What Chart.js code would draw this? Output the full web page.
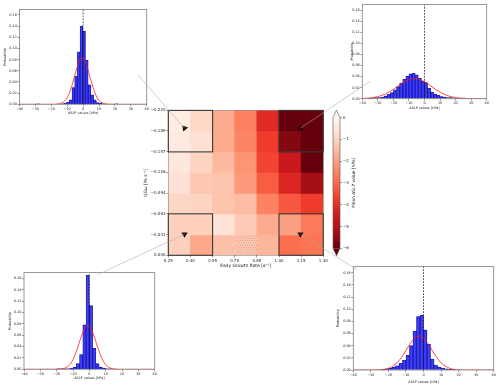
<!DOCTYPE html>
<html>
<head>
<meta charset="utf-8">
<script src="https://cdn.jsdelivr.net/npm/chart.js"></script>
<style>
  body { margin: 0; background: #fff; width: 500px; height: 387px; position: relative; overflow: hidden; }
  canvas { position: absolute; }
</style>
</head>
<body>
<canvas id="heat"></canvas>
<canvas id="cbar"></canvas>
<canvas id="hTL"></canvas>
<canvas id="hTR"></canvas>
<canvas id="hBL"></canvas>
<canvas id="hBR"></canvas>
<canvas id="links"></canvas>
<script>
// ---- heatmap data ----
const growthEdges = [0.25, 0.40, 0.55, 0.70, 0.85, 1.00, 1.15, 1.30];
const qgEdges = [-0.220, -0.189, -0.157, -0.126, -0.094, -0.063, -0.031, 0.000];
// mean dSLP per cell, rows from top (-0.220) to bottom (0.000)
const meanSLP = [
  [-0.3, -0.9, -1.8, -2.6, -4.1, -6.0, -6.0],
  [-0.4, -0.7, -1.8, -2.5, -3.75, -5.6, -6.0],
  [-0.5, -1.0, -1.5, -2.2, -3.6, -4.5, -6.0],
  [-0.7, -1.25, -1.3, -2.1, -3.2, -4.2, -5.25],
  [-0.95, -1.0, -1.3, -1.45, -2.55, -3.3, -3.75],
  [-1.05, -1.05, -0.65, -1.2, -1.8, -2.0, -2.7],
  [-1.05, -1.85, -1.4, -1.3, -1.6, -2.9, -2.8]
];
const stippled = [[1, 5], [6, 3]];
const cbarTicks = [0, -1, -2, -3, -4, -5, -6];
const boxes = [
  [0.25, 0.55, -0.220, -0.157],
  [1.00, 1.30, -0.220, -0.157],
  [0.25, 0.55, -0.063, 0.000],
  [1.00, 1.30, -0.063, 0.000]
];
const markerX = [0.36, 1.145, 0.36, 1.145];
const markerY = [-0.193, -0.193, -0.032, -0.032];
const markerRot = [-40, 10, 180, 180];

// ---- histogram insets ----
const histTicksX = [-40, -30, -20, -10, 0, 10, 20, 30, 40];
const probTicks = [0, 0.02, 0.04, 0.06, 0.08, 0.10, 0.12, 0.14, 0.16];

const tlBins = [-28.25, -12.95, -11.25, -9.55, -7.85, -6.15, -4.45, -2.75, -1.05, 0.65, 2.35, 4.05, 5.75, 7.45, 9.15, 10.85, 12.55, 21.05];
const tlProb = [0.001, 0.001, 0.002, 0.004, 0.008, 0.030, 0.050, 0.094, 0.140, 0.131, 0.079, 0.035, 0.017, 0.008, 0.003, 0.002, 0.001, 0.001];
const tlFitX = [-40, -20, -15, -12.5, -10, -7.5, -5, -2.5, -1, 0, 2.5, 5, 7.5, 10, 12.5, 15, 20, 40];
const tlFitY = [0, 0, 0.001, 0.004, 0.012, 0.029, 0.054, 0.077, 0.083, 0.082, 0.067, 0.042, 0.020, 0.007, 0.002, 0.0005, 0, 0];

const trBins = [-35, -33, -31, -29, -27, -25, -23, -21, -19, -17, -15, -13, -11, -9, -7, -5, -3, -1, 1, 3, 5, 7, 9, 11, 13, 15, 17, 19, 21, 23, 25];
const trProb = [0.001, 0.001, 0.002, 0.002, 0.003, 0.005, 0.008, 0.011, 0.016, 0.022, 0.028, 0.035, 0.041, 0.045, 0.046, 0.043, 0.037, 0.032, 0.029, 0.019, 0.012, 0.008, 0.006, 0.004, 0.003, 0.002, 0.002, 0.001, 0.001, 0.001, 0.001];
const trFitX = [-40, -35, -30, -25, -20, -15, -10, -7, -5, 0, 5, 10, 15, 20, 25, 30, 40];
const trFitY = [0.0004, 0.0013, 0.0037, 0.0088, 0.017, 0.027, 0.0345, 0.0363, 0.036, 0.0305, 0.021, 0.0118, 0.0054, 0.002, 0.0006, 0.0001, 0];

const blBins = [-19, -17, -15, -13, -11, -9, -7, -5, -3, -1, 1, 3, 5, 7, 9, 11, 13];
const blProb = [0.001, 0.001, 0.001, 0.001, 0.002, 0.004, 0.010, 0.026, 0.078, 0.165, 0.112, 0.037, 0.010, 0.004, 0.002, 0.001, 0.001];
const blFitX = [-40, -20, -15, -12.5, -10, -7.5, -5, -2.5, -1, 0, 2.5, 5, 7.5, 10, 12.5, 15, 20, 40];
const blFitY = [0, 0.0001, 0.0021, 0.0067, 0.0171, 0.0351, 0.057, 0.0736, 0.0767, 0.0753, 0.0613, 0.0394, 0.0202, 0.0082, 0.0026, 0.0007, 0, 0];

const brBins = [-23, -21, -19, -17, -15, -13, -11, -9, -7, -5, -3, -1, 1, 3, 5, 7, 9, 11, 13, 15, 17];
const brProb = [0.001, 0.002, 0.003, 0.005, 0.007, 0.011, 0.016, 0.024, 0.040, 0.064, 0.088, 0.090, 0.066, 0.042, 0.018, 0.008, 0.005, 0.003, 0.002, 0.001, 0.001];
const brFitX = [-40, -30, -25, -20, -15, -12.5, -10, -7.5, -5, -2.5, 0, 2.5, 5, 7.5, 10, 15, 20, 25, 40];
const brFitY = [0, 0, 0.0004, 0.0027, 0.0119, 0.0208, 0.032, 0.0437, 0.0526, 0.056, 0.0526, 0.0437, 0.032, 0.0208, 0.0119, 0.0027, 0.0004, 0, 0];

// where each connector line ends, in the inset's own data coordinates
const linkEndX = [34.4, -35.2, 4.8, -37.9];
const linkEndY = [0.053, 0.031, 0.166, 0.165];

Chart.defaults.font.family = 'DejaVu Sans';
Chart.defaults.color = '#222';
Chart.defaults.animation = false;
Chart.defaults.events = [];
Chart.defaults.plugins.legend.display = false;
Chart.defaults.plugins.tooltip.enabled = false;

const redsStops = ['#fff5f0', '#fee0d2', '#fcbba1', '#fc9272', '#fb6a4a', '#ef3b2c', '#cb181d', '#a50f15', '#67000d'];
function hexRgb(h) {
  return [1, 3, 5].map(i => parseInt(h.slice(i, i + 2), 16));
}
function redsRgb(v) {
  const t = Math.min(1, Math.max(0, -v / 6)) * 8;
  const i = Math.min(7, Math.floor(t)), f = t - i;
  const a = hexRgb(redsStops[i]), b = hexRgb(redsStops[i + 1]);
  return a.map((x, k) => Math.round(x + (b[k] - x) * f));
}
function redsColor(v) {
  const c = redsRgb(v);
  return `rgb(${c[0]},${c[1]},${c[2]})`;
}
const minus = v => (v < 0 ? '\u2212' + Math.abs(v) : String(v));

// put a canvas so that its chart area lands on the given page rectangle
function place(id, area, m) {
  const left = Math.floor(area.x - m.l), top = Math.floor(area.y - m.t);
  const w = Math.ceil(area.x + area.w + m.r) - left;
  const h = Math.ceil(area.y + area.h + m.b) - top;
  const cv = document.getElementById(id);
  cv.width = w; cv.height = h;
  cv.style.left = left + 'px'; cv.style.top = top + 'px';
  cv.style.width = w + 'px'; cv.style.height = h + 'px';
  return { cv, left, top, w, h,
    l: area.x - left, t: area.y - top,
    r: left + w - (area.x + area.w), b: top + h - (area.y + area.h) };
}

const tickGrid = { drawOnChartArea: false, drawTicks: true, tickLength: 2, color: '#333', lineWidth: 0.5 };

const frame = {
  id: 'frame',
  afterDatasetsDraw(chart, args, opts) {
    const { ctx, chartArea: a } = chart;
    ctx.save();
    ctx.strokeStyle = opts.color || '#777';
    ctx.lineWidth = opts.width || 0.8;
    ctx.strokeRect(a.left, a.top, a.right - a.left, a.bottom - a.top);
    ctx.restore();
  }
};

// ---- heatmap ----
const heatPos = place('heat', { x: 168.3, y: 110.4, w: 155, h: 144.9 }, { l: 32, t: 6, r: 8, b: 16 });
const heatTitleFont = 4.4;
const heatCells = {
  id: 'heatCells',
  afterDatasetsDraw(chart) {
    const { ctx, scales: { x, y } } = chart;
    ctx.save();
    // significance stippling, a darker shade of the cell colour
    stippled.forEach(([r, c]) => {
      const base = redsRgb(meanSLP[r][c]).map(k => Math.round(k * 0.6));
      ctx.fillStyle = `rgba(${base[0]},${base[1]},${base[2]},0.7)`;
      const x0 = x.getPixelForValue(growthEdges[c]), x1 = x.getPixelForValue(growthEdges[c + 1]);
      const y0 = y.getPixelForValue(qgEdges[r]), y1 = y.getPixelForValue(qgEdges[r + 1]);
      for (let py = y0 + 1.2; py < y1; py += 2.3) {
        for (let px = x0 + 1.2 + ((py - y0) % 4.6 > 2 ? 1.1 : 0); px < x1; px += 2.3) {
          ctx.fillRect(px - 0.35, py - 0.35, 0.7, 0.7);
        }
      }
    });
    // outer frame
    const a = chart.chartArea;
    ctx.strokeStyle = 'rgba(0,0,0,0.45)';
    ctx.lineWidth = 0.6;
    ctx.strokeRect(a.left, a.top, a.right - a.left, a.bottom - a.top);
    // the four selection boxes
    ctx.strokeStyle = '#3a3a3a';
    ctx.lineWidth = 1.1;
    boxes.forEach(([gx0, gx1, qy0, qy1]) => {
      const px0 = x.getPixelForValue(gx0), px1 = x.getPixelForValue(gx1);
      const py0 = y.getPixelForValue(qy0), py1 = y.getPixelForValue(qy1);
      ctx.strokeRect(px0, py0, px1 - px0, py1 - py0);
    });
    ctx.restore();
  }
};

const heatDatasets = meanSLP.map((row, r) => ({
  type: 'bar',
  data: row.map((v, c) => ({ x: (growthEdges[c] + growthEdges[c + 1]) / 2, y: [qgEdges[r], qgEdges[r + 1]] })),
  backgroundColor: row.map(redsColor),
  borderWidth: 0,
  barPercentage: 1,
  categoryPercentage: 1,
  order: 2
}));
heatDatasets.push({
  type: 'scatter',
  data: markerX.map((x, i) => ({ x, y: markerY[i] })),
  pointStyle: 'triangle',
  rotation: markerRot,
  pointRadius: 3.6,
  backgroundColor: '#1c0b0b',
  borderWidth: 0,
  order: 0
});

const heatChart = new Chart(heatPos.cv, {
  type: 'bar',
  data: { datasets: heatDatasets },
  options: {
    responsive: false,
    layout: { padding: { left: 0, top: heatPos.t, right: heatPos.r, bottom: 0 } },
    scales: {
      x: {
        type: 'linear', stacked: true, min: 0.25, max: 1.30, offset: false,
        grid: Object.assign({ offset: false }, tickGrid), border: { display: false },
        afterBuildTicks: s => { s.ticks = growthEdges.map(v => ({ value: v })); },
        ticks: { font: { size: 4 }, padding: 0.8, maxRotation: 0, autoSkip: false,
          callback: (v, i) => growthEdges[i].toFixed(2) },
        title: { display: true, text: 'Eady Growth Rate [d\u207B\u00B9]', font: { size: heatTitleFont },
          padding: { top: 0, bottom: heatPos.h - (266.3 - heatPos.top) - heatTitleFont * 0.6 } },
        afterFit: s => { s.height = heatPos.b; s.paddingLeft = 0; s.paddingRight = 0; }
      },
      y: {
        type: 'linear', reverse: true, min: -0.220, max: 0,
        grid: tickGrid, border: { display: false },
        afterBuildTicks: s => { s.ticks = qgEdges.map(v => ({ value: v })); },
        ticks: { font: { size: 4 }, padding: 0.8, autoSkip: false,
          callback: (v, i) => (qgEdges[i] < 0 ? '\u2212' : '') + Math.abs(qgEdges[i]).toFixed(3) },
        title: { display: true, text: 'QG\u03C9 [Pa s\u207B\u00B9]', font: { size: heatTitleFont },
          padding: { top: (145.5 - heatPos.left) - heatTitleFont * 0.6, bottom: 0 } },
        afterFit: s => { s.width = heatPos.l; s.paddingTop = 0; s.paddingBottom = 0; }
      }
    }
  },
  plugins: [heatCells]
});

// ---- colour bar ----
const cbPos = place('cbar', { x: 333, y: 117.5, w: 7, h: 130.8 }, { l: 2, t: 10, r: 30, b: 10 });
const cbarExtras = {
  id: 'cbarExtras',
  afterDatasetsDraw(chart) {
    const { ctx, chartArea: a } = chart;
    const ext = 7.5, mid = (a.left + a.right) / 2;
    ctx.save();
    ctx.fillStyle = redsStops[0];
    ctx.beginPath(); ctx.moveTo(a.left, a.top); ctx.lineTo(mid, a.top - ext); ctx.lineTo(a.right, a.top); ctx.closePath(); ctx.fill();
    ctx.fillStyle = redsStops[8];
    ctx.beginPath(); ctx.moveTo(a.left, a.bottom); ctx.lineTo(mid, a.bottom + ext); ctx.lineTo(a.right, a.bottom); ctx.closePath(); ctx.fill();
    ctx.strokeStyle = '#555';
    ctx.lineWidth = 0.6;
    ctx.beginPath();
    ctx.moveTo(a.left, a.top); ctx.lineTo(mid, a.top - ext); ctx.lineTo(a.right, a.top);
    ctx.lineTo(a.right, a.bottom); ctx.lineTo(mid, a.bottom + ext); ctx.lineTo(a.left, a.bottom);
    ctx.closePath(); ctx.stroke();
    // label, reading bottom to top
    ctx.translate(354 - cbPos.left, (a.top + a.bottom) / 2);
    ctx.rotate(-Math.PI / 2);
    ctx.fillStyle = '#222';
    ctx.font = '4.4px "DejaVu Sans"';
    ctx.textAlign = 'center';
    ctx.textBaseline = 'middle';
    ctx.fillText('Mean \u0394SLP value [hPa]', 0, 0);
    ctx.restore();
  }
};
new Chart(cbPos.cv, {
  type: 'bar',
  data: {
    labels: ['dSLP'],
    datasets: [{
      data: [[cbarTicks[cbarTicks.length - 1], cbarTicks[0]]],
      backgroundColor: ctx => {
        const a = ctx.chart.chartArea;
        if (!a) return redsColor(-3);
        const g = ctx.chart.ctx.createLinearGradient(0, a.top, 0, a.bottom);
        redsStops.forEach((c, i) => g.addColorStop(i / 8, c));
        return g;
      },
      borderWidth: 0,
      barPercentage: 1,
      categoryPercentage: 1
    }]
  },
  options: {
    responsive: false,
    layout: { padding: { left: cbPos.l, top: cbPos.t, right: 0, bottom: cbPos.b } },
    scales: {
      x: { display: false },
      y: {
        position: 'right', min: -6, max: 0,
        grid: tickGrid, border: { display: false },
        afterBuildTicks: s => { s.ticks = cbarTicks.map(v => ({ value: v })); },
        ticks: { font: { size: 4 }, padding: 1, callback: v => minus(v) },
        afterFit: s => { s.width = cbPos.r; s.paddingTop = 0; s.paddingBottom = 0; }
      }
    }
  },
  plugins: [cbarExtras]
});

// ---- histogram insets ----
function histChart(id, area, m, yTitleX, xTitleY, bins, probs, fitX, fitY) {
  const p = place(id, area, m);
  const fs = 3.4, lh = fs * 1.2;
  const chart = new Chart(p.cv, {
    type: 'bar',
    data: {
      datasets: [
        { type: 'line', data: fitX.map((x, i) => ({ x, y: fitY[i] })), borderColor: '#ff1a1a', borderWidth: 0.8,
          pointRadius: 0, cubicInterpolationMode: 'monotone', order: 0 },
        { type: 'line', data: [{ x: 0, y: 0 }, { x: 0, y: 0.17 }], borderColor: '#111', borderWidth: 0.7,
          borderDash: [1.8, 1.2], pointRadius: 0, order: 1 },
        { type: 'bar', data: bins.map((x, i) => ({ x, y: probs[i] })), backgroundColor: 'rgba(10,10,245,0.78)',
          borderColor: 'rgba(0,0,60,0.75)', borderWidth: 0.4, barPercentage: 1, categoryPercentage: 1, order: 2 }
      ]
    },
    options: {
      responsive: false,
      layout: { padding: { left: 0, top: p.t, right: p.r, bottom: 0 } },
      scales: {
        x: {
          type: 'linear', min: -40, max: 40, offset: false,
          grid: Object.assign({ offset: false }, tickGrid), border: { display: false },
          afterBuildTicks: s => { s.ticks = histTicksX.map(v => ({ value: v })); },
          ticks: { font: { size: fs }, padding: 0.6, maxRotation: 0, autoSkip: false, callback: v => minus(v) },
          title: { display: true, text: '\u0394SLP values [hPa]', font: { size: fs },
            padding: { top: 0, bottom: p.h - (xTitleY - p.top) - lh / 2 } },
          afterFit: s => { s.height = p.b; s.paddingLeft = 0; s.paddingRight = 0; }
        },
        y: {
          min: 0, max: 0.17,
          grid: tickGrid, border: { display: false },
          afterBuildTicks: s => { s.ticks = probTicks.map(v => ({ value: v })); },
          ticks: { font: { size: fs }, padding: 0.6, autoSkip: false, callback: v => v.toFixed(2) },
          title: { display: true, text: 'Probability', font: { size: fs },
            padding: { top: (yTitleX - p.left) - lh / 2, bottom: 0 } },
          afterFit: s => { s.width = p.l; s.paddingTop = 0; s.paddingBottom = 0; }
        }
      },
      plugins: { frame: { color: '#808080', width: 0.8 } }
    },
    plugins: [frame]
  });
  return { chart, p };
}

const insets = [
  histChart('hTL', { x: 19.5, y: 9.4, w: 127.2, h: 94.9 }, { l: 19, t: 3, r: 4, b: 12 }, 5, 113, tlBins, tlProb, tlFitX, tlFitY),
  histChart('hTR', { x: 362.3, y: 4.6, w: 124.4, h: 94.1 }, { l: 16, t: 3, r: 4, b: 12 }, 352, 108, trBins, trProb, trFitX, trFitY),
  histChart('hBL', { x: 24, y: 272.6, w: 130.7, h: 96.7 }, { l: 20, t: 3, r: 4, b: 13 }, 10, 378.5, blBins, blProb, blFitX, blFitY),
  histChart('hBR', { x: 353.3, y: 266.6, w: 140.4, h: 103.4 }, { l: 18, t: 3, r: 5, b: 16 }, 338.5, 381.7, brBins, brProb, brFitX, brFitY)
];

// ---- connector lines from the markers to the insets ----
const ov = document.getElementById('links');
ov.width = 500; ov.height = 387;
Object.assign(ov.style, { left: '0px', top: '0px', width: '500px', height: '387px' });
const g = ov.getContext('2d');
g.strokeStyle = 'rgba(170,170,170,0.7)';
g.lineWidth = 0.8;
insets.forEach(({ chart, p }, i) => {
  const x0 = heatPos.left + heatChart.scales.x.getPixelForValue(markerX[i]);
  const y0 = heatPos.top + heatChart.scales.y.getPixelForValue(markerY[i]);
  const x1 = p.left + chart.scales.x.getPixelForValue(linkEndX[i]);
  const y1 = p.top + chart.scales.y.getPixelForValue(linkEndY[i]);
  g.beginPath();
  g.moveTo(x0, y0);
  g.lineTo(x1, y1);
  g.stroke();
});
</script>
</body>
</html>
